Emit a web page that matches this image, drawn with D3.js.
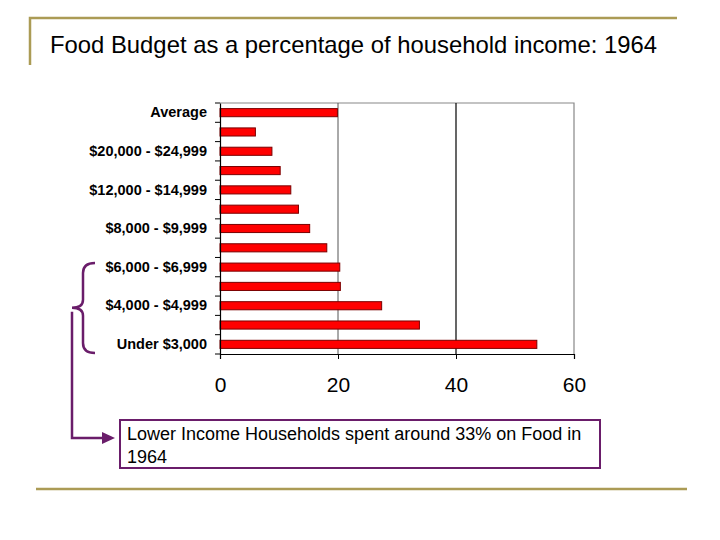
<!DOCTYPE html>
<html>
<head>
<meta charset="utf-8">
<script src="https://cdn.jsdelivr.net/npm/d3@7"></script>
<style>
  body { margin: 0; background: #fff; }
  svg { font-family: Arial, "Liberation Sans", sans-serif; }
</style>
</head>
<body>
<div id="chart"></div>
<script>
// income groups, top to bottom (only every other one is labelled in the chart)
const categories = [
  "Average",
  "$25,000 and over",
  "$20,000 - $24,999",
  "$15,000 - $19,999",
  "$12,000 - $14,999",
  "$10,000 - $11,999",
  "$8,000 - $9,999",
  "$7,000 - $7,999",
  "$6,000 - $6,999",
  "$5,000 - $5,999",
  "$4,000 - $4,999",
  "$3,000 - $3,999",
  "Under $3,000"
];
const values = [19.9, 6.0, 8.8, 10.2, 12.0, 13.3, 15.2, 18.1, 20.3, 20.4, 27.4, 33.8, 53.7];
const xTicks = [0, 20, 40, 60];
const shownLabels = ["Average", "$20,000 - $24,999", "$12,000 - $14,999", "$8,000 - $9,999",
  "$6,000 - $6,999", "$4,000 - $4,999", "Under $3,000"];

const title = "Food Budget as a percentage of household income: 1964";
const note = ["Lower Income Households spent around 33% on Food in", "1964"];

const width = 720, height = 540;
const gold = "#ab9b55";
const purple = "#6a1d6a";

const svg = d3.select("#chart").append("svg")
  .attr("width", width)
  .attr("height", height);

// slide decoration
svg.append("path")
  .attr("d", "M30,65 V18 H677")
  .attr("fill", "none")
  .attr("stroke", gold)
  .attr("stroke-width", 2.5);
svg.append("line")
  .attr("x1", 36).attr("x2", 687)
  .attr("y1", 489).attr("y2", 489)
  .attr("stroke", gold)
  .attr("stroke-width", 2.5);

svg.append("text")
  .attr("x", 50).attr("y", 53)
  .style("font-size", "24px")
  .attr("textLength", 607)
  .attr("lengthAdjust", "spacingAndGlyphs")
  .text(title);

// scales
const x = d3.scaleLinear().domain([0, 60]).range([220, 574]);
const y = d3.scaleBand().domain(categories).range([103, 354]).paddingInner(0.58).paddingOuter(0.29);

// plot frame (top + right) and grid lines
svg.append("path")
  .attr("d", `M${x(0)},${y.range()[0]} H${x(60)} V${y.range()[1]}`)
  .attr("fill", "none")
  .attr("stroke", "#888")
  .attr("stroke-width", 1.2);

svg.append("line")
  .attr("x1", x(20)).attr("x2", x(20))
  .attr("y1", y.range()[0]).attr("y2", y.range()[1])
  .attr("stroke", "#555").attr("stroke-width", 1);
svg.append("line")
  .attr("x1", x(40)).attr("x2", x(40))
  .attr("y1", y.range()[0]).attr("y2", y.range()[1])
  .attr("stroke", "#000").attr("stroke-width", 1.2);

// bars
svg.selectAll("rect.bar")
  .data(values)
  .enter()
  .append("rect")
  .attr("class", "bar")
  .attr("x", x(0))
  .attr("y", (d, i) => y(categories[i]))
  .attr("width", d => x(d) - x(0))
  .attr("height", y.bandwidth())
  .attr("fill", "#ff0000")
  .attr("stroke", "#7a0000")
  .attr("stroke-width", 1);

// y axis: labels at band centres, ticks at band boundaries
const yAxis = svg.append("g")
  .attr("transform", `translate(${x(0)},0)`)
  .call(d3.axisLeft(y).tickSize(0).tickPadding(13)
    .tickFormat(d => shownLabels.includes(d) ? d : ""));
yAxis.select(".domain").attr("stroke", "#000").attr("stroke-width", 1.2);
yAxis.selectAll("text")
  .style("font-size", "14.5px")
  .style("font-weight", "bold")
  .attr("fill", "#000");

const bounds = d3.range(categories.length + 1).map(i => y.range()[0] + i * y.step());
svg.selectAll("line.ytick")
  .data(bounds)
  .enter()
  .append("line")
  .attr("class", "ytick")
  .attr("x1", x(0) - 5).attr("x2", x(0))
  .attr("y1", d => d).attr("y2", d => d)
  .attr("stroke", "#000");

// x axis
const xAxis = svg.append("g")
  .attr("transform", `translate(0,${y.range()[1]})`)
  .call(d3.axisBottom(x).tickValues(xTicks).tickSize(5).tickPadding(18));
xAxis.select(".domain").attr("stroke", "#000").attr("stroke-width", 1.2);
xAxis.selectAll(".tick line").attr("stroke", "#000");
xAxis.selectAll("text")
  .style("font-size", "21px")
  .attr("fill", "#000");

// brace around the lower-income groups
const bTop = y("$6,000 - $6,999") + y.bandwidth() / 2 - 4;
const bMid = y("$4,000 - $4,999") + y.bandwidth() / 2 + 2;
const bBot = y.range()[1] - 1;
const xs = 83, xt = 95, xp = 72;
svg.append("path")
  .attr("d", `M${xt},${bTop} Q${xs},${bTop} ${xs},${bTop + 10} V${bMid - 8} Q${xs},${bMid} ${xp},${bMid}` +
    ` Q${xs},${bMid} ${xs},${bMid + 8} V${bBot - 10} Q${xs},${bBot} ${xt},${bBot}`)
  .attr("fill", "none")
  .attr("stroke", purple)
  .attr("stroke-width", 2.5);

// connector arrow to the note
const arrowY = 438;
svg.append("path")
  .attr("d", `M${xp},${bMid + 4} V${arrowY} H104`)
  .attr("fill", "none")
  .attr("stroke", purple)
  .attr("stroke-width", 2.5);
svg.append("path")
  .attr("d", `M102,${arrowY - 6} L115,${arrowY} L102,${arrowY + 6} Z`)
  .attr("fill", purple);

// note box
svg.append("rect")
  .attr("x", 120).attr("y", 420)
  .attr("width", 480).attr("height", 48)
  .attr("fill", "#fff")
  .attr("stroke", purple)
  .attr("stroke-width", 2);
svg.append("text")
  .attr("x", 127).attr("y", 440)
  .style("font-size", "18px")
  .selectAll("tspan")
  .data(note)
  .enter()
  .append("tspan")
  .attr("x", 127)
  .attr("dy", (d, i) => i ? 23 : 0)
  .text(d => d);
</script>
</body>
</html>
